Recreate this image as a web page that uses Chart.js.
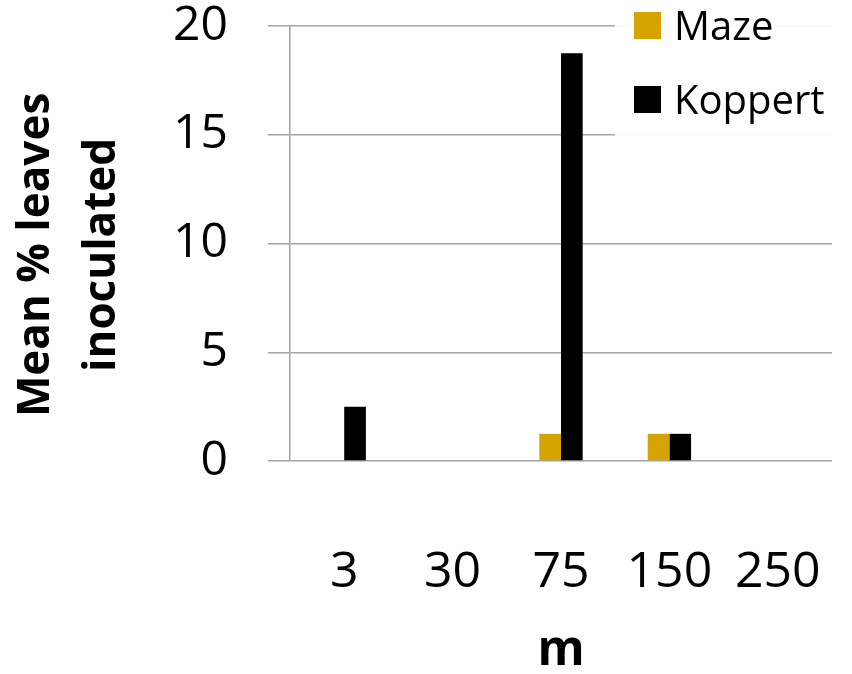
<!DOCTYPE html>
<html>
<head>
<meta charset="utf-8">
<style>
  html, body { margin: 0; padding: 0; background: #fff; }
  #wrap { width: 852px; height: 674px; position: relative; }
</style>
</head>
<body>
<div id="wrap"><canvas id="inocChart"></canvas></div>

<script src="https://cdn.jsdelivr.net/npm/chart.js"></script>
<script>
// dados do gráfico
const distancias = ['3', '30', '75', '150', '250'];
const maze = [0, 0, 1.25, 1.25, 0];
const koppert = [2.5, 0, 18.75, 1.25, 0];
const yTicks = [0, 5, 10, 15, 20];

const FONT = "'Open Sans', 'Noto Sans', sans-serif";
const GRID = '#a3a3a3';

// legenda desenhada por cima do canto superior direito
const legendaPlugin = {
  id: 'legendaCanto',
  afterDraw(chart) {
    const ctx = chart.ctx;
    ctx.save();
    ctx.fillStyle = 'rgba(255,255,255,0.94)';
    ctx.fillRect(615, 0, 237, 140);
    ctx.font = '40px ' + FONT;
    ctx.textBaseline = 'alphabetic';
    ctx.textAlign = 'left';
    chart.data.datasets.forEach((ds, i) => {
      const y = 12 + i * 74;
      ctx.fillStyle = ds.backgroundColor;
      ctx.fillRect(634, y, 27, 27);
      ctx.fillStyle = '#000';
      ctx.fillText(ds.label, 674, y + 28);
    });
    ctx.restore();
  }
};

function initChart() {
  const ctx = document.getElementById('inocChart').getContext('2d');
  new Chart(ctx, {
    type: 'bar',
    data: {
      labels: distancias,
      datasets: [
        { label: 'Maze', data: maze, backgroundColor: '#D6A300', borderWidth: 0 },
        { label: 'Koppert', data: koppert, backgroundColor: '#000000', borderWidth: 0 }
      ]
    },
    options: {
      responsive: true,
      maintainAspectRatio: false,
      animation: false,
      layout: { padding: { top: 26, right: 20, left: 0, bottom: 0 } },
      categoryPercentage: 0.4,
      barPercentage: 1.0,
      plugins: {
        legend: { display: false },
        tooltip: { enabled: false }
      },
      scales: {
        x: {
          grid: { display: false, drawTicks: false },
          border: { display: false },
          ticks: {
            color: '#000',
            font: { family: FONT, size: 50 },
            padding: 82,
            maxRotation: 0,
            autoSkip: false
          },
          title: {
            display: true,
            text: 'm',
            color: '#000',
            font: { family: FONT, size: 48, weight: 'bold' },
            padding: { top: 0, bottom: -6 }
          },
          afterFit(scale) {
            scale.height = 213;
            scale.paddingLeft = 0;
            scale.paddingRight = 0;
          }
        },
        y: {
          min: 0,
          max: 20,
          afterBuildTicks(scale) { scale.ticks = yTicks.map(v => ({ value: v })); },
          grid: { color: GRID, lineWidth: 1.5, tickLength: 22, drawTicks: true },
          border: { display: true, color: GRID, width: 1.5 },
          ticks: {
            color: '#000',
            font: { family: FONT, size: 48 },
            padding: 40
          },
          title: {
            display: true,
            // espaços no fim para descer um pouco o título
            text: ['Mean % leaves  ', 'inoculated  '],
            color: '#000',
            font: { family: FONT, size: 44, weight: 'bold', lineHeight: 1.5 },
            padding: { top: 3, bottom: 0 }
          },
          afterFit(scale) {
            scale.width = 290;
            scale.paddingTop = 0;
            scale.paddingBottom = 0;
          }
        }
      }
    },
    plugins: [legendaPlugin]
  });
}

document.addEventListener('DOMContentLoaded', initChart);
</script>
</body>
</html>
